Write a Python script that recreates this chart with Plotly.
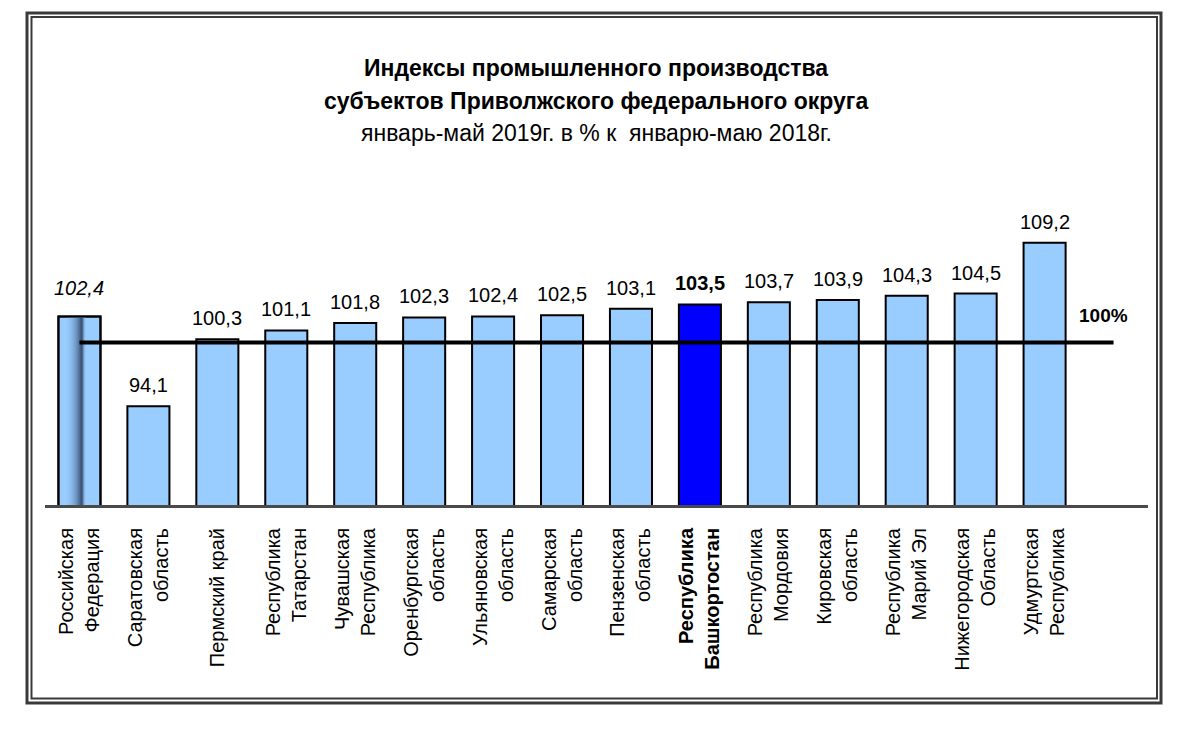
import plotly.graph_objects as go

# ---- data ----
categories = [
    "Российская<br>Федерация",
    "Саратовская<br>область",
    "Пермский край",
    "Республика<br>Татарстан",
    "Чувашская<br>Республика",
    "Оренбургская<br>область",
    "Ульяновская<br>область",
    "Самарская<br>область",
    "Пензенская<br>область",
    "Республика<br>Башкортостан",
    "Республика<br>Мордовия",
    "Кировская<br>область",
    "Республика<br>Марий Эл",
    "Нижегородская<br>Область",
    "Удмуртская<br>Республика",
]
values = [102.4, 94.1, 100.3, 101.1, 101.8, 102.3, 102.4, 102.5,
          103.1, 103.5, 103.7, 103.9, 104.3, 104.5, 109.2]
total_index = 0        # Российская Федерация (italic label, shaded bar)
highlight_index = 9    # Республика Башкортостан (bold, dark blue)
reference_level = 100
reference_label = "100%"

title_lines = [
    ("Индексы промышленного производства", True),
    ("субъектов Приволжского федерального округа", True),
    ("январь-май 2019г. в % к  январю-маю 2018г.", False),
]

# ---- layout geometry (screen px; page has 8px body offset) ----
W, H = 1180, 730
OFF = 8
SL, SR, ST, SB = 45, 1148, 234, 505     # plot area on screen
L = SL - OFF
T = ST - OFF
R = W - (SR - OFF)
B = H - (SB - OFF)
PW, PH = W - L - R, H - T - B
Y_MIN, Y_MAX = 85, 110


def px_x(p):
    return (p - OFF - L) / PW


def px_y(p):
    return (H - B - (p - OFF)) / PH


FONT = "Liberation Sans, Arial, sans-serif"
LIGHT = "#99CCFF"
DARK = "#0000FF"
BAR_W = 0.61

colors = [DARK if i == highlight_index else LIGHT for i in range(len(values))]
xs = list(range(len(values)))

ticktext = []
for i, c in enumerate(categories):
    ticktext.append(f"<b>{c}</b>" if i == highlight_index else c)

fig = go.Figure()
fig.add_trace(go.Bar(
    x=xs, y=values,
    marker=dict(color=colors, line=dict(color="#000000", width=2)),
    width=BAR_W,
    hoverinfo="skip",
))

# shading streak on the first (total) bar
xc = xs[total_index]
v0 = values[total_index]
fig.add_trace(go.Scatter(
    x=[xc - 0.22, xc + 0.1, xc + 0.1, xc - 0.22, xc - 0.22],
    y=[Y_MIN, Y_MIN, v0 - 0.08, v0 - 0.08, Y_MIN],
    mode="lines", line=dict(width=0),
    fill="toself",
    fillgradient=dict(
        type="horizontal",
        colorscale=[[0.0, "rgba(153,204,255,0)"], [0.55, "rgba(70,100,140,0.55)"],
                    [0.8, "rgba(40,60,90,0.9)"], [1.0, "rgba(153,204,255,0)"]],
    ),
    hoverinfo="skip",
))
# redraw outline of first bar on top of streak
fig.add_trace(go.Bar(
    x=[xc], y=[v0],
    marker=dict(color="rgba(0,0,0,0)", line=dict(color="#000000", width=2)),
    width=BAR_W, hoverinfo="skip",
))

annotations = []
for i, v in enumerate(values):
    s = f"{v:.1f}".replace(".", ",")
    if i == total_index:
        s = f"<i>{s}</i>"
    if i == highlight_index:
        s = f"<b>{s}</b>"
    annotations.append(dict(
        x=i, y=v, xref="x", yref="y", text=s, showarrow=False,
        yanchor="bottom", yshift=(15 if i == total_index else 8),
        font=dict(family=FONT, size=20, color="#000000"),
    ))

annotations.append(dict(
    x=14.85, y=102.5, xref="x", yref="y", text=f"<b>{reference_label}</b>",
    showarrow=False, font=dict(family=FONT, size=19, color="#000000"),
))

title_y = [68, 101, 133]
for (txt, bold), yy in zip(title_lines, title_y):
    annotations.append(dict(
        x=px_x(596), y=px_y(yy), xref="paper", yref="paper",
        text=(f"<b>{txt}</b>" if bold else txt), showarrow=False,
        xanchor="center", yanchor="middle",
        font=dict(family=FONT, size=23, color="#000000"),
    ))

shapes = [
    dict(type="line", xref="x", yref="y", x0=0, x1=15,
         y0=reference_level, y1=reference_level,
         line=dict(color="#000000", width=4)),
    dict(type="rect", xref="paper", yref="paper",
         x0=px_x(27), x1=px_x(1161), y0=px_y(703), y1=px_y(13),
         line=dict(color="#3a3a3a", width=3)),
    dict(type="rect", xref="paper", yref="paper",
         x0=px_x(31.5), x1=px_x(1157), y0=px_y(698.5), y1=px_y(17),
         line=dict(color="#3a3a3a", width=2)),
]

fig.update_layout(
    width=W, height=H,
    margin=dict(l=L, r=R, t=T, b=B, pad=0),
    paper_bgcolor="white", plot_bgcolor="white",
    showlegend=False,
    barmode="overlay",
    annotations=annotations,
    shapes=shapes,
    font=dict(family=FONT, color="#000000"),
    xaxis=dict(
        range=[-0.5, 15.5],
        tickmode="array", tickvals=xs, ticktext=ticktext,
        tickangle=-90,
        tickfont=dict(family=FONT, size=20, color="#000000"),
        showline=True, linecolor="#4a4a4a", linewidth=3,
        showgrid=False, zeroline=False, ticks="",
        ticklabelstandoff=12,
        fixedrange=True,
    ),
    yaxis=dict(
        range=[Y_MIN, Y_MAX], visible=False, showgrid=False, zeroline=False,
        fixedrange=True,
    ),
)

fig.write_html("out.html")
